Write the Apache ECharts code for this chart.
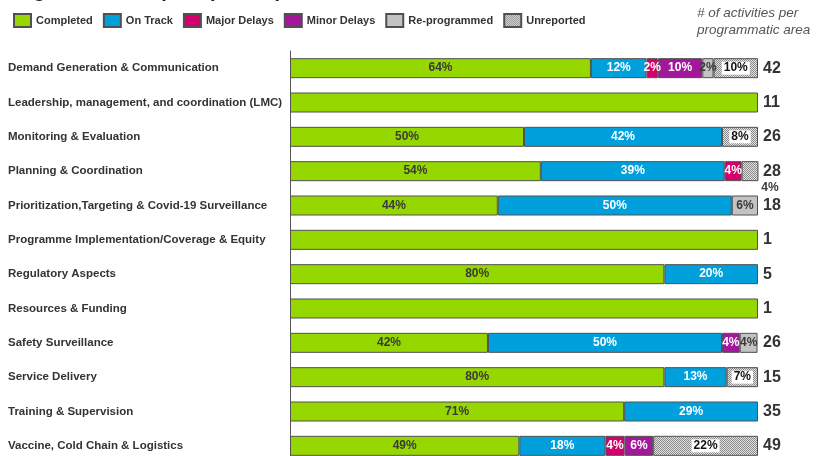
<!DOCTYPE html>
<html>
<head>
<meta charset="utf-8">
<script src="https://cdn.jsdelivr.net/npm/echarts@6/dist/echarts.min.js"></script>
<style>
html,body{margin:0;padding:0;background:#fff;}
#chart{width:816px;height:456px;}
</style>
</head>
<body>
<div id="chart"></div>
<script>
const categories = [
  'Demand Generation & Communication',
  'Leadership, management, and coordination (LMC)',
  'Monitoring & Evaluation',
  'Planning & Coordination',
  'Prioritization,Targeting & Covid-19 Surveillance',
  'Programme Implementation/Coverage & Equity',
  'Regulatory Aspects',
  'Resources & Funding',
  'Safety Surveillance',
  'Service Delivery',
  'Training & Supervision',
  'Vaccine, Cold Chain & Logistics'
];
const completed    = [64.3, 100, 50.0, 53.6, 44.4, 100, 80, 100, 42.3, 80.0, 71.4, 49.0];
const onTrack      = [11.9, 0,   42.3, 39.3, 50.0, 0,   20, 0,   50.0, 13.3, 28.6, 18.4];
const majorDelays  = [2.4,  0,   0,    3.6,  0,    0,   0,  0,   0,    0,    0,    4.1];
const minorDelays  = [9.5,  0,   0,    0,    0,    0,   0,  0,   3.8,  0,    0,    6.1];
const reprogrammed = [2.4,  0,   0,    0,    5.6,  0,   0,  0,   3.8,  0,    0,    0];
const unreported   = [9.5,  0,   7.7,  3.6,  0,    0,   0,  0,   0,    6.7,  0,    22.4];
const activityCounts = [42, 11, 26, 28, 18, 1, 5, 1, 26, 15, 35, 49];
const seriesNames = ['Completed', 'On Track', 'Major Delays', 'Minor Delays', 'Re-programmed', 'Unreported'];

// hatch pattern for "Unreported"
const pat = document.createElement('canvas');
pat.width = 2; pat.height = 2;
const pctx = pat.getContext('2d');
pctx.fillStyle = '#e2e2e2'; pctx.fillRect(0, 0, 2, 2);
pctx.fillStyle = '#8a8a8a'; pctx.fillRect(0, 0, 1, 1); pctx.fillRect(1, 1, 1, 1);

const FONT = '"Liberation Sans", Arial, sans-serif';
const colors = ['#97d700', '#00a0dc', '#d4006b', '#a3179b', '#c3c3c3', {image: pat, repeat: 'repeat'}];
const labelColors = ['#3a3a3a', '#ffffff', '#ffffff', '#ffffff', '#3a3a3a', '#111111'];
const values = [completed, onTrack, majorDelays, minorDelays, reprogrammed, unreported];

const fmt = p => {
  const v = p.value;
  if (v === '-' || v >= 100) return '';
  return Math.round(v) + '%';
};

const series = seriesNames.map((name, si) => ({
  name: name,
  type: 'bar',
  stack: 'total',
  barWidth: 20,
  itemStyle: {color: colors[si], borderColor: '#505050', borderWidth: 1},
  label: {
    show: true,
    position: 'inside',
    formatter: fmt,
    color: labelColors[si],
    fontFamily: FONT,
    fontWeight: 'bold',
    fontSize: 12,
    backgroundColor: si === 5 ? '#ffffff' : 'transparent',
    padding: si === 5 ? [1, 2, 0, 2] : 0
  },
  emphasis: {disabled: true},
  data: values[si].map((v, i) => {
    const val = v === 0 ? '-' : v;
    if (si === 5 && i === 3) {
      return {value: val, label: {position: 'bottom', distance: 1, offset: [20, 0], backgroundColor: 'transparent', color: '#3a3a3a', padding: 0}};
    }
    return val;
  })
}));

const chart = echarts.init(document.getElementById('chart'), null, {renderer: 'canvas'});
chart.setOption({
  animation: false,
  backgroundColor: '#ffffff',
  legend: {
    left: 13, top: 13, padding: 0,
    icon: 'rect',
    itemWidth: 17, itemHeight: 13, itemGap: 10,
    textStyle: {fontFamily: FONT, fontWeight: 'bold', fontSize: 11, color: '#333'},
    data: seriesNames
  },
  grid: {left: 290, width: 468, top: 51, height: 412, containLabel: false, outerBoundsMode: 'none'},
  xAxis: {type: 'value', min: 0, max: 100, show: false},
  yAxis: [{
    type: 'category',
    inverse: true,
    data: categories,
    axisLine: {show: true, lineStyle: {color: '#555', width: 1}},
    axisTick: {show: false},
    axisLabel: {align: 'left', margin: 282, fontFamily: FONT, fontWeight: 'bold', fontSize: 11.5, color: '#333'}
  }, {
    type: 'category',
    inverse: true,
    position: 'right',
    data: activityCounts.map(String),
    axisLine: {show: false},
    axisTick: {show: false},
    axisLabel: {align: 'left', margin: 5, fontFamily: FONT, fontWeight: 'bold', fontSize: 16, color: '#333'}
  }],
  graphic: [{
    type: 'text', left: 0, top: -19,
    style: {text: 'Progress Status (Completion)', font: 'bold 20px ' + FONT, fill: '#222'}
  }, {
    type: 'text', left: 697, top: 5,
    style: {text: '# of activities per\nprogrammatic area', font: 'italic 13.5px ' + FONT, fill: '#555', lineHeight: 17}
  }],
  series: series
});
</script>
</body>
</html>
